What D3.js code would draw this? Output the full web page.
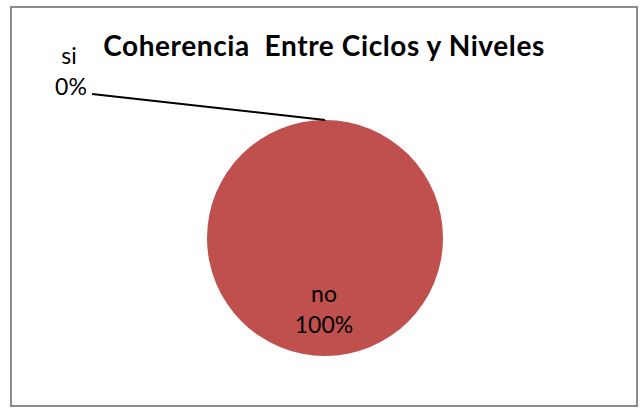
<!DOCTYPE html>
<html><head><meta charset="utf-8">
<script src="https://cdn.jsdelivr.net/npm/d3@7"></script>
<style>body{margin:0;background:#fff;}svg{display:block;} text{white-space:pre;}</style>
</head><body>
<script>
const categories = ["si", "no"];
const values = [0, 100];
const percentLabels = ["0%", "100%"];
const colors = ["#4F81BD", "#C0504D"];
const title = "Coherencia  Entre Ciclos y Niveles";

const W = 644, H = 411;
const svg = d3.select("body").append("svg").attr("width", W).attr("height", H);

// frame
svg.append("rect").attr("x", 11).attr("y", 7).attr("width", 626).attr("height", 399)
  .attr("fill", "#fff").attr("stroke", "#8a8a8a").attr("stroke-width", 2);

svg.append("text").attr("x", 324).attr("y", 56).attr("text-anchor", "middle")
  .attr("font-family", "Lato, sans-serif").attr("font-weight", "bold")
  .attr("font-size", 28).attr("letter-spacing", 0.6).attr("fill", "#000").text(title);

const cx = 325, cy = 238, r = 118;
const g = svg.append("g").attr("transform", `translate(${cx},${cy})`);
const data = categories.map((c, i) => ({cat: c, value: values[i], pct: percentLabels[i], color: colors[i]}));
const pie = d3.pie().sort(null).value(d => d.value);
const arcs = pie(data);
const arc = d3.arc().innerRadius(0).outerRadius(r);

g.selectAll("path.slice").data(arcs.filter(a => a.endAngle > a.startAngle)).enter()
  .append("path").attr("class", "slice").attr("d", arc).attr("fill", d => d.data.color);

const font = "Lato, sans-serif";
const fs = 23;
arcs.forEach(a => {
  if (a.endAngle - a.startAngle < 0.01) {
    const ang = a.startAngle;
    const px = Math.sin(ang) * r, py = -Math.cos(ang) * r;
    const lx = 92 - cx, ly = 94 - cy;
    g.append("path").attr("d", `M${px},${py}L${lx},${ly}`)
      .attr("stroke", "#000").attr("stroke-width", 2).attr("fill", "none");
    g.append("text").attr("x", lx - 23).attr("y", ly - 30).attr("text-anchor", "middle")
      .attr("font-family", font).attr("font-size", fs).text(a.data.cat);
    g.append("text").attr("x", lx - 21).attr("y", ly + 1).attr("text-anchor", "middle")
      .attr("font-family", font).attr("font-size", fs).text(a.data.pct);
  } else {
    const mid = Math.PI;
    const lr = r * 0.62;
    const x = Math.sin(mid) * lr, y = -Math.cos(mid) * lr;
    g.append("text").attr("x", x - 1).attr("y", y - 9).attr("text-anchor", "middle")
      .attr("font-family", font).attr("font-size", fs).text(a.data.cat);
    g.append("text").attr("x", x - 1).attr("y", y + 22).attr("text-anchor", "middle")
      .attr("font-family", font).attr("font-size", fs).text(a.data.pct);
  }
});
</script>
</body></html>
